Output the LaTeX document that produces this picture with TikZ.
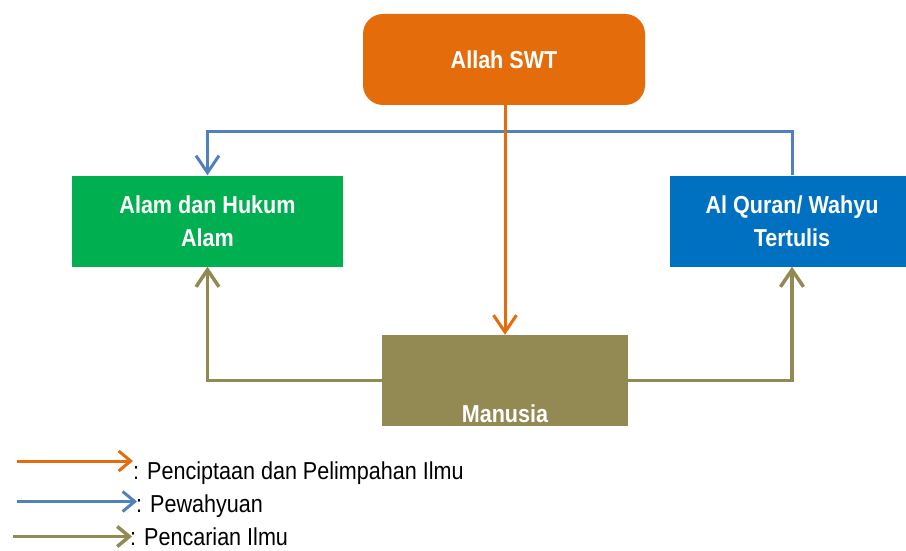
\documentclass[tikz,border=0pt]{standalone}
\usepackage{fontspec}
\setmainfont{Liberation Sans}[FakeStretch=0.88]
\usetikzlibrary{arrows.meta}
\definecolor{corange}{HTML}{E46C0A}
\definecolor{cgreen}{HTML}{00B050}
\definecolor{cbluebox}{HTML}{0070C0}
\definecolor{cblueline}{HTML}{4F81BD}
\definecolor{colive}{HTML}{938953}
\tikzset{
  boxbase/.style={draw=none, inner sep=0pt, text=white, align=center,
    font=\fontsize{24.5}{33}\selectfont\bfseries},
  allahbox/.style={boxbase, fill=corange, rounded corners=20pt, minimum width=282pt, minimum height=91pt},
  greenbox/.style={boxbase, fill=cgreen, minimum width=271pt, minimum height=91pt},
  bluebox/.style={boxbase, fill=cbluebox, minimum width=244pt, minimum height=91pt},
  olivebox/.style={boxbase, fill=colive, minimum width=246pt, text height=87pt, text depth=4pt},
  tipbig/.style={-{Straight Barb[length=17pt,width=23pt]}},
  tipsmall/.style={-{Straight Barb[length=12pt,width=20pt]}},
  orangeline/.style={draw=corange, line width=3pt},
  blueline/.style={draw=cblueline, line width=3pt},
  oliveline/.style={draw=colive, line width=3.5pt},
  legtext/.style={anchor=base west, inner sep=0pt, font=\fontsize{24.5}{28}\selectfont}
}
\begin{document}
\begin{tikzpicture}[x=1pt,y=-1pt]
\useasboundingbox (0,0) rectangle (906,551);
\node[allahbox] (allah) at (504,59.5) {Allah SWT};
\node[greenbox] (alam) at (207.5,221) {Alam dan Hukum\\Alam};
\node[bluebox] (quran) at (792,221) {Al Quran/ Wahyu\\Tertulis};
\node[olivebox] (manusia) at (505,380.5) {Manusia};
% connectors
\draw[blueline, tipbig] (quran.north) -- ++(0,-44) -| (alam.north);
\draw[oliveline, tipbig] (manusia.west) -| (alam.south);
\draw[oliveline, tipbig] (manusia.east) -| (quran.south);
\draw[orangeline, tipbig] (manusia.north |- allah.south) -- (manusia.north);
% legend
\coordinate (l1a) at (17,461); \coordinate (l1b) at (133,461);
\coordinate (l2a) at (17,501.5); \coordinate (l2b) at (137,501.5);
\coordinate (l3a) at (13,536.5); \coordinate (l3b) at (132,536.5);
\draw[orangeline, tipsmall] (l1a) -- (l1b);
\draw[blueline, tipsmall] (l2a) -- (l2b);
\draw[oliveline, tipsmall] (l3a) -- (l3b);
\node[legtext] (t1) at (133,479) {: Penciptaan dan Pelimpahan Ilmu};
\node[legtext] (t2) at (136,512) {: Pewahyuan};
\node[legtext] (t3) at (130,545) {: Pencarian Ilmu};
\end{tikzpicture}
\end{document}
